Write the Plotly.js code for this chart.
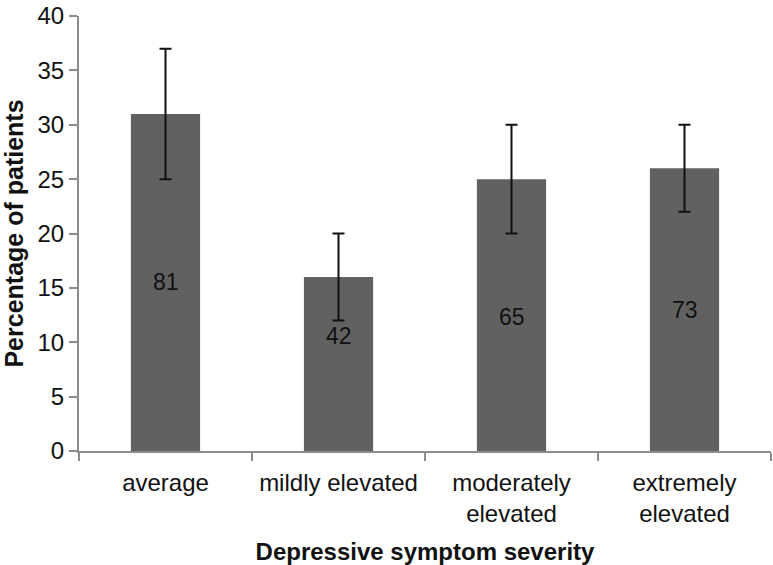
<!DOCTYPE html>
<html><head><meta charset="utf-8">
<script src="https://cdn.plot.ly/plotly-3.0.1.min.js"></script>
<style>html,body{margin:0;padding:0;background:#fff}</style>
</head><body>
<div id="chart" style="width:773px;height:565px"></div>
<script>
const categories = ["average", "mildly elevated", "moderately<br>elevated", "extremely<br>elevated"];
const percentages = [31, 16, 25, 26];
const errors = [6, 4, 5, 4];
const counts = ["81", "42", "65", "73"];
const countLabelY = [15.5, 10.6, 12.3, 13.0];
const yTicks = [0, 5, 10, 15, 20, 25, 30, 35, 40];

const font = "Liberation Sans, Arial, Helvetica, sans-serif";

const trace = {
  type: "bar",
  x: categories,
  y: percentages,
  width: 0.4,
  marker: {color: "#616161"},
  error_y: {type: "data", array: errors, visible: true, color: "#111", thickness: 2, width: 6},
  hoverinfo: "none"
};

const annotations = categories.map((c, i) => ({
  x: c, y: countLabelY[i], xref: "x", yref: "y",
  text: counts[i], showarrow: false,
  font: {family: font, size: 23, color: "#111"}
}));

const layout = {
  width: 773, height: 565,
  margin: {l: 79, r: 2, t: 16, b: 114},
  paper_bgcolor: "#fff", plot_bgcolor: "#fff",
  showlegend: false,
  font: {family: font, color: "#111"},
  xaxis: {
    showgrid: false, zeroline: false,
    showline: true, linecolor: "#8c8c8c", linewidth: 2,
    ticks: "outside", tickson: "boundaries", ticklen: 8, tickcolor: "#8c8c8c", tickwidth: 2,
    ticklabelstandoff: 9,
    tickfont: {family: font, size: 24, color: "#111"},
    title: {text: "Depressive symptom severity", font: {family: font, size: 24, color: "#111", weight: "bold"}, standoff: 18}
  },
  yaxis: {
    range: [0, 40], tickvals: yTicks, ticktext: yTicks.map(String),
    showgrid: false, zeroline: false,
    showline: true, linecolor: "#8c8c8c", linewidth: 2,
    ticks: "outside", ticklen: 8, tickcolor: "#8c8c8c", tickwidth: 2,
    tickfont: {family: font, size: 24, color: "#111"},
    title: {text: "Percentage of patients", font: {family: font, size: 25, color: "#111", weight: "bold"}, standoff: 8}
  },
  annotations: annotations
};

Plotly.newPlot("chart", [trace], layout, {displayModeBar: false, staticPlot: true});
</script>
</body></html>
